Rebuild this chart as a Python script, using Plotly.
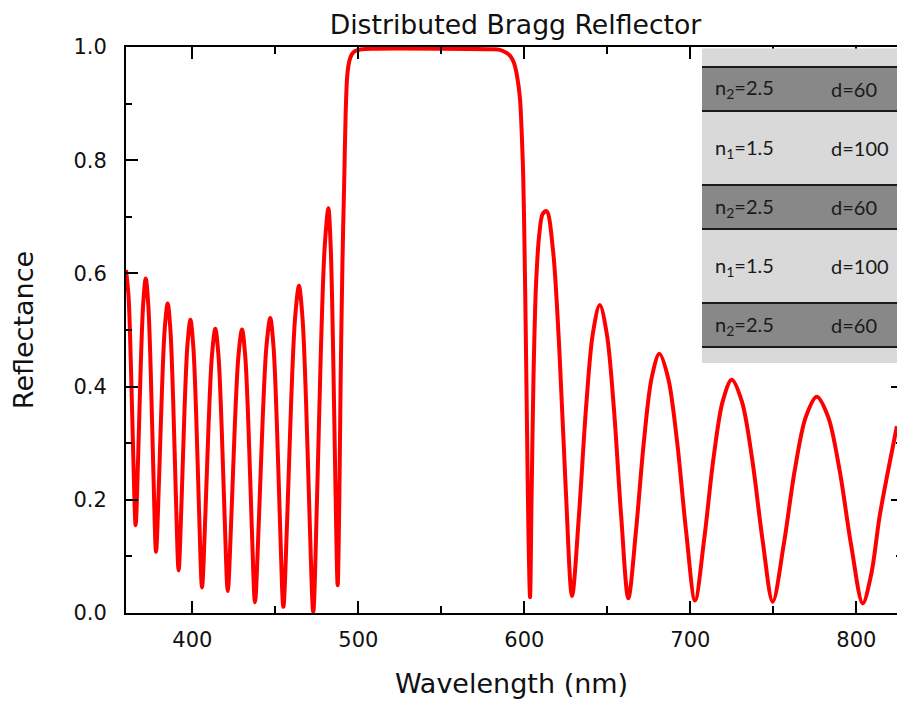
import plotly.graph_objects as go

# ---------------- data ----------------
wavelength_nm = [
    360.0, 361.5, 362.9, 364.35,
    365.8, 367.33, 368.85, 370.38,
    371.9, 373.45, 375.0, 376.55,
    378.1, 379.85, 381.6, 383.35,
    385.1, 386.75, 388.4, 390.05,
    391.7, 393.48, 395.25, 397.03,
    398.8, 400.55, 402.3, 404.05,
    405.8, 407.8, 409.8, 411.8,
    413.8, 415.68, 417.55, 419.43,
    421.3, 423.45, 425.6, 427.75,
    429.9, 431.85, 433.8, 435.75,
    437.7, 440.0, 442.3, 444.6,
    446.9, 448.88, 450.85, 452.83,
    454.8, 457.15, 459.5, 461.85,
    464.2, 466.35, 468.5, 470.65,
    472.8, 475.08, 477.35, 479.63,
    481.9, 483.3, 484.7, 486.1,
    487.5, 488.5, 489.3, 490.4, 491.5, 492.3, 493.3, 494.5, 496.0, 498.0,
    502.0, 510.0, 550.0, 580.0, 585.3, 589.0, 591.5, 593.7, 595.5, 597.3,
    598.5, 599.3, 600.0, 600.8, 601.6, 602.4,
    603.4, 604.3, 605.5, 607.0, 609.0, 611.0,
    613.4, 617.2, 621.05, 624.9,
    628.7, 632.9, 637.05, 641.2,
    645.4, 649.7, 654.0, 658.3,
    662.6, 667.28, 671.95, 676.63,
    681.3, 686.68, 692.05, 697.43,
    702.8, 708.33, 713.85, 719.38,
    724.9, 731.08, 737.25, 743.43,
    749.6, 756.23, 762.85, 769.48,
    776.1, 783.03, 789.95, 796.88,
    803.8, 808.9, 814.0, 819.0, 824.4,
]

reflectance = [
    0.606, 0.561, 0.444, 0.281,
    0.155, 0.277, 0.434, 0.547,
    0.591, 0.543, 0.417, 0.243,
    0.108, 0.231, 0.389, 0.503,
    0.547, 0.500, 0.377, 0.207,
    0.075, 0.199, 0.359, 0.474,
    0.518, 0.471, 0.348, 0.177,
    0.045, 0.173, 0.337, 0.456,
    0.502, 0.456, 0.335, 0.169,
    0.039, 0.168, 0.335, 0.455,
    0.501, 0.453, 0.327, 0.154,
    0.019, 0.160, 0.340, 0.471,
    0.521, 0.470, 0.337, 0.154,
    0.011, 0.170, 0.374, 0.521,
    0.578, 0.520, 0.371, 0.163,
    0.002, 0.202, 0.458, 0.644,
    0.715, 0.648, 0.475, 0.235,
    0.049, 0.20, 0.41, 0.62, 0.77, 0.88, 0.95, 0.975, 0.987, 0.993,
    0.996, 0.997, 0.997, 0.996, 0.995, 0.99, 0.984, 0.972, 0.95, 0.91,
    0.84, 0.77, 0.66, 0.50, 0.32, 0.15,
    0.028, 0.20, 0.42, 0.58, 0.67, 0.705,
    0.710, 0.642, 0.465, 0.220,
    0.030, 0.174, 0.359, 0.493,
    0.544, 0.492, 0.358, 0.171,
    0.026, 0.147, 0.302, 0.415,
    0.458, 0.414, 0.301, 0.144,
    0.022, 0.131, 0.272, 0.373,
    0.412, 0.373, 0.271, 0.130,
    0.020, 0.121, 0.252, 0.346,
    0.382, 0.346, 0.251, 0.119,
    0.017, 0.068, 0.171, 0.250, 0.330,
]
assert len(wavelength_nm) == len(reflectance)

x_ticks = [400, 500, 600, 700, 800]
y_ticks = [0.0, 0.2, 0.4, 0.6, 0.8, 1.0]

# layer stack shown in the inset (top to bottom)
layer_index = ["n<sub>2</sub>=2.5", "n<sub>1</sub>=1.5", "n<sub>2</sub>=2.5",
               "n<sub>1</sub>=1.5", "n<sub>2</sub>=2.5"]
layer_thickness = ["d=60", "d=100", "d=60", "d=100", "d=60"]

TITLE = "Distributed Bragg Relflector"
X_TITLE = "Wavelength (nm)"
Y_TITLE = "Reflectance"

# ---------------- figure ----------------
W, H = 897, 701
ML, MR, MT, MB = 126, 0, 47, 88
PW, PH = W - ML - MR, H - MT - MB


def py(p):  # pixel row -> paper y
    return (H - MB - p) / PH


def px(p):  # pixel column -> paper x
    return (p - ML) / PW


fig = go.Figure()
fig.add_trace(go.Scatter(
    x=wavelength_nm, y=reflectance, mode="lines",
    line=dict(color="#ff0000", width=4, shape="spline", smoothing=0.9),
    showlegend=False, hoverinfo="x+y",
))
# carrier for the right-hand (tick only) axis
fig.add_trace(go.Scatter(
    x=wavelength_nm[:1], y=reflectance[:1], yaxis="y2", mode="markers",
    marker=dict(opacity=0), showlegend=False, hoverinfo="skip",
))

tick_font = dict(family="DejaVu Sans", size=21, color="#111111")
title_font = dict(family="DejaVu Sans", size=27, color="#111111")

fig.update_layout(
    width=W, height=H,
    margin=dict(l=ML, r=MR, t=MT, b=MB, autoexpand=False),
    paper_bgcolor="white", plot_bgcolor="white",
    title=dict(text=TITLE, x=515.5 / W, xanchor="center", xref="container",
               y=1 - 25 / H, yanchor="middle", yref="container",
               font=dict(family="DejaVu Sans", size=26.7, color="#111111")),
    xaxis=dict(
        range=[360, 360 + PW / 1.66], tickvals=x_ticks, showgrid=False,
        zeroline=False, showline=True, linecolor="black", linewidth=2,
        mirror="ticks", ticks="inside", ticklen=12, tickwidth=2,
        tickcolor="black", tickfont=tick_font, ticklabelstandoff=7,
        minor=dict(dtick=50, ticks="inside", ticklen=7, tickwidth=2,
                   tickcolor="black", showgrid=False),
        title=dict(text=X_TITLE, font=title_font, standoff=23),
    ),
    yaxis=dict(
        range=[0, 1], tickvals=y_ticks, tickformat=".1f", showgrid=False,
        zeroline=False, showline=True, linecolor="black", linewidth=2,
        mirror=False, ticks="inside", ticklen=12, tickwidth=2,
        tickcolor="black", tickfont=tick_font, ticklabelstandoff=13,
        minor=dict(dtick=0.1, ticks="inside", ticklen=6, tickwidth=2,
                   tickcolor="black", showgrid=False),
        title=dict(text=Y_TITLE, font=title_font, standoff=32),
    ),
    yaxis2=dict(
        range=[0, 1], overlaying="y", side="right", tickvals=y_ticks,
        showticklabels=False, showgrid=False, zeroline=False, showline=False,
        ticks="inside", ticklen=6, tickwidth=2, tickcolor="black",
        minor=dict(dtick=0.1, ticks="inside", ticklen=1, tickwidth=2,
                   tickcolor="black", showgrid=False),
    ),
)

# ---------------- inset: layer stack ----------------
light, dark = "#d9d9d9", "#888888"
shapes = [dict(type="rect", xref="paper", yref="paper", layer="above",
               x0=px(702), x1=1.0, y0=py(363), y1=py(48.5),
               fillcolor=light, line=dict(width=0))]
stripes = [(67, 111), (185, 229), (303, 347)]
for top, bot in stripes:
    shapes.append(dict(type="rect", xref="paper", yref="paper", layer="above",
                       x0=px(702), x1=1.0, y0=py(bot), y1=py(top),
                       fillcolor=dark, line=dict(width=0)))
    for edge in (top, bot):
        shapes.append(dict(type="line", xref="paper", yref="paper", layer="above",
                           x0=px(702), x1=1.0, y0=py(edge), y1=py(edge),
                           line=dict(color="#1a1a1a", width=2)))
fig.update_layout(shapes=shapes)

row_centres = [89, 148, 207, 266, 325]
inset_font = dict(family="Lato", size=20, color="#1a1a1a")
for lab, thk, yc in zip(layer_index, layer_thickness, row_centres):
    fig.add_annotation(text=lab, xref="paper", yref="paper", x=px(712.7),
                       y=py(yc), xanchor="left", yanchor="middle",
                       showarrow=False, font=inset_font)
    fig.add_annotation(text=thk, xref="paper", yref="paper", x=px(829),
                       y=py(yc), xanchor="left", yanchor="middle",
                       showarrow=False, font=inset_font)

fig.write_html("out.html")
